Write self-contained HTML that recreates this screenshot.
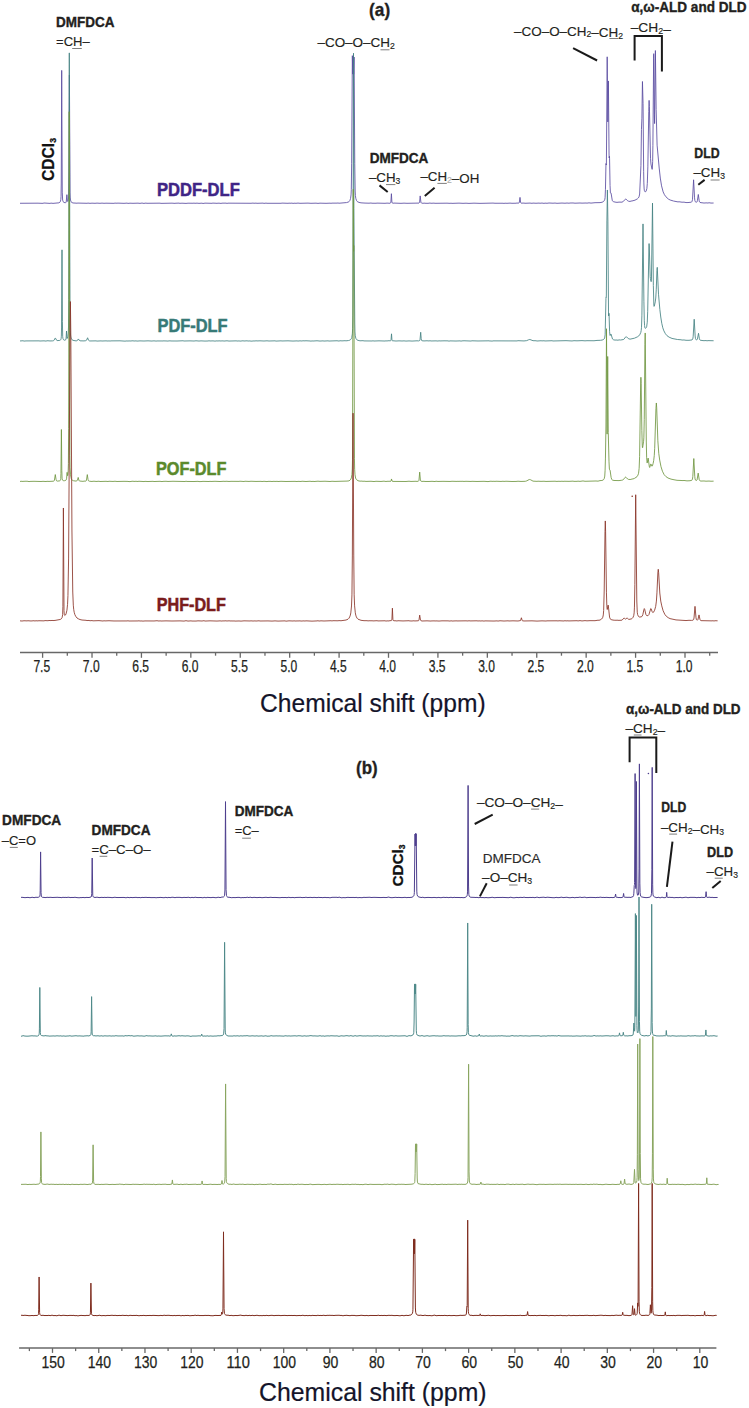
<!DOCTYPE html>
<html><head><meta charset="utf-8"><title>NMR spectra</title>
<style>
html,body{margin:0;padding:0;background:#fff;}
body{width:749px;height:1408px;overflow:hidden;font-family:"Liberation Sans", sans-serif;}
svg{display:block;}
</style></head><body>
<svg width="749" height="1408" viewBox="0 0 749 1408" font-family='"Liberation Sans", sans-serif'><polyline fill="none" stroke="#5a4ba0" stroke-width="0.85" stroke-linejoin="round" points="20.00,203.27 38.00,203.18 42.00,203.34 43.00,203.31 44.00,203.01 50.00,203.38 51.00,203.12 53.00,203.36 58.95,202.83 59.90,202.23 60.50,201.18 60.85,199.40 61.05,196.35 61.25,183.04 61.70,70.38 62.25,192.16 62.65,200.08 63.15,201.72 64.00,202.53 65.45,202.68 65.95,202.50 66.20,202.17 66.90,194.66 67.40,200.70 67.60,201.42 67.85,201.33 68.40,199.39 68.65,195.89 68.95,171.89 69.40,75.05 70.05,192.11 70.20,197.06 70.50,200.06 71.10,201.79 72.00,202.68 74.00,203.10 75.00,203.01 76.00,203.21 78.00,203.08 87.00,203.29 88.00,203.10 90.00,203.33 92.00,203.17 95.00,203.31 97.00,203.12 100.00,203.30 102.00,203.11 104.00,203.31 106.00,203.19 114.00,203.33 115.00,203.06 116.00,203.23 118.00,203.13 124.00,203.34 127.00,203.12 128.00,203.38 130.00,203.19 133.00,203.31 138.00,203.16 140.00,203.37 142.00,203.05 144.00,203.45 145.00,203.16 146.00,203.14 147.00,203.29 160.00,203.16 161.00,203.36 172.00,203.16 175.00,203.37 176.00,203.15 177.00,203.26 178.00,203.07 180.00,203.32 182.00,203.19 186.00,203.40 188.00,203.20 193.00,203.26 194.00,203.11 195.00,203.31 197.00,203.15 199.00,203.35 202.00,203.17 203.00,203.47 205.00,203.15 212.00,203.32 213.00,203.03 214.00,203.25 215.00,203.11 216.00,203.33 219.00,203.16 221.00,203.41 222.00,203.16 226.00,203.14 227.00,203.39 228.00,203.17 251.00,203.27 253.00,203.08 254.00,203.28 256.00,203.13 257.00,203.30 263.00,203.11 264.00,203.39 266.00,203.12 267.00,203.29 281.00,203.29 282.00,203.10 288.00,203.31 289.00,203.16 291.00,203.26 292.00,203.04 293.00,203.48 294.00,203.18 296.00,203.30 298.00,203.09 300.00,203.30 308.00,203.12 311.00,203.31 316.00,203.16 318.00,203.36 320.00,203.17 326.00,203.32 330.00,203.17 331.00,203.30 332.00,203.13 337.00,203.14 338.00,202.99 339.00,203.22 346.50,202.58 348.45,201.98 349.10,201.57 349.75,200.77 350.55,198.57 351.05,194.89 351.30,189.45 351.65,163.77 352.35,55.66 352.75,74.15 353.20,56.22 353.65,74.22 354.10,57.05 354.75,163.76 355.15,191.01 355.40,195.50 355.80,198.33 356.50,200.50 357.00,201.31 357.45,201.61 359.00,202.43 361.00,202.83 365.00,203.09 369.00,203.20 371.00,203.02 372.00,203.23 376.00,203.25 377.00,203.11 385.00,203.30 387.00,203.11 390.00,203.29 390.65,202.85 390.90,202.07 391.40,193.70 391.90,202.12 392.15,202.86 393.00,203.25 394.00,203.08 401.00,203.34 404.00,203.15 407.00,203.31 419.00,203.09 419.40,202.69 419.60,201.93 420.20,195.90 420.95,202.53 421.35,202.97 423.00,203.35 424.00,203.08 425.00,203.26 428.00,203.32 430.00,203.04 431.00,203.29 434.00,203.13 435.00,203.31 447.00,203.18 450.00,203.34 451.00,203.19 452.00,203.36 459.00,203.13 463.00,203.33 466.00,203.19 469.00,203.39 474.00,203.16 480.00,203.36 493.00,203.09 495.00,203.26 503.00,203.24 504.00,203.41 505.00,203.20 507.00,203.31 510.00,203.11 512.00,203.29 516.00,203.23 517.00,203.00 518.00,203.16 518.95,203.00 519.30,202.54 520.00,197.39 520.60,202.27 520.80,202.90 521.10,203.16 524.00,203.08 525.00,203.27 530.00,203.08 532.00,203.32 533.00,203.08 536.00,203.25 539.00,203.09 540.00,203.25 542.00,203.05 544.00,203.36 545.00,203.11 547.00,203.28 549.00,203.01 553.00,203.21 555.00,203.05 557.00,203.30 562.00,203.06 565.00,203.22 567.00,203.03 569.00,203.21 570.00,203.02 573.00,202.98 575.00,203.19 580.00,203.00 582.00,203.13 586.00,203.00 587.00,203.14 589.00,202.83 591.00,203.10 595.00,202.70 600.00,202.62 602.00,202.28 602.90,201.86 603.75,201.25 604.45,200.33 604.85,199.23 605.10,197.56 605.45,189.70 605.95,165.01 606.05,163.45 606.30,165.02 606.40,163.44 607.20,56.81 607.80,121.91 608.40,80.95 609.05,154.00 609.20,157.97 609.45,156.34 609.55,158.12 610.05,185.58 610.40,192.70 610.55,193.06 610.90,192.82 611.10,193.30 612.25,200.35 612.65,201.14 613.30,201.59 615.00,202.08 617.00,202.35 619.00,202.11 622.00,202.16 623.40,201.39 625.20,199.31 625.70,199.05 626.15,199.24 627.80,200.87 628.60,201.23 630.00,201.48 631.00,201.05 632.00,200.97 635.00,200.17 637.40,198.85 638.35,197.93 639.05,196.78 639.65,194.04 640.95,165.45 641.45,129.52 641.90,118.19 642.45,81.50 643.05,103.60 643.65,171.71 643.85,182.91 644.15,188.97 644.45,190.73 644.90,191.69 645.50,191.80 646.15,191.06 646.85,188.65 647.30,183.57 647.85,166.89 648.75,111.40 649.10,100.38 649.40,106.56 650.50,158.28 650.95,163.95 651.95,168.96 652.15,169.38 652.30,168.90 652.65,161.52 652.90,145.50 653.65,54.56 653.75,53.66 653.85,58.64 654.35,114.22 654.60,123.60 655.40,50.54 656.15,109.63 657.10,145.17 659.20,168.06 660.30,178.06 661.55,185.85 663.15,191.89 664.45,194.68 665.90,196.76 668.35,199.04 670.15,200.00 673.55,201.04 678.00,201.91 679.00,201.76 682.00,202.21 684.00,202.15 686.00,202.55 688.00,202.55 691.15,202.22 691.70,201.91 692.05,201.44 692.50,199.32 693.60,179.79 694.55,197.83 694.85,200.48 695.30,201.73 695.70,202.01 696.50,202.19 696.85,202.09 697.10,201.74 697.45,200.36 698.30,194.47 699.20,200.79 699.50,201.86 699.90,202.34 701.00,202.74 702.00,202.70 703.00,202.96 705.00,203.01 706.00,202.85 708.00,203.02 709.00,202.74 711.00,203.07 713.60,203.03"/>
<polyline fill="none" stroke="#458282" stroke-width="0.85" stroke-linejoin="round" points="20.00,340.96 23.00,340.75 24.00,341.09 26.00,340.91 39.00,340.86 40.00,341.00 44.00,340.84 46.00,341.08 47.00,340.78 48.00,340.77 50.00,340.95 52.40,340.90 53.35,340.75 53.90,340.43 55.30,338.01 55.60,338.29 56.45,340.08 57.00,340.61 59.75,340.43 60.40,340.11 60.85,339.48 61.15,338.35 61.35,336.21 61.55,327.05 62.00,249.84 62.40,321.71 62.70,336.78 63.00,338.73 63.55,339.77 64.20,340.13 64.95,340.23 65.80,339.70 66.10,338.12 66.50,331.04 67.00,338.32 67.15,338.56 67.35,338.31 67.85,336.53 68.25,333.09 68.50,327.03 68.75,299.54 69.30,52.89 70.00,321.03 70.20,330.49 70.65,336.11 71.05,337.92 71.50,339.02 72.10,339.79 73.00,340.35 76.00,340.88 76.80,340.74 77.45,340.41 78.40,338.96 79.35,340.43 80.00,340.82 84.00,340.92 85.80,340.68 86.60,340.16 87.60,337.78 88.50,340.21 89.20,340.80 90.00,340.98 96.00,340.86 97.00,341.07 101.00,340.88 102.00,341.01 106.00,340.87 108.00,341.03 109.00,340.87 110.00,341.05 111.00,340.89 120.00,340.82 125.00,341.14 127.00,340.91 128.00,341.09 129.00,340.86 130.00,341.02 133.00,340.79 134.00,341.02 136.00,340.87 137.00,341.08 140.00,340.88 144.00,341.01 148.00,340.84 152.00,341.05 153.00,340.88 155.00,340.91 156.00,341.11 157.00,340.94 163.00,340.97 164.00,340.82 165.00,341.00 166.00,340.87 167.00,341.08 170.00,340.83 171.00,340.98 177.00,341.00 183.00,340.78 184.00,341.01 190.00,340.86 194.00,341.03 196.00,340.79 199.00,341.04 201.00,340.86 205.00,341.07 208.00,340.99 209.00,340.78 210.00,340.97 213.00,340.89 215.00,341.10 217.00,340.85 218.00,341.06 219.00,340.79 220.00,340.98 223.00,340.88 224.00,341.05 227.00,340.79 229.00,341.05 236.00,340.87 238.00,341.05 239.00,340.84 240.00,341.13 243.00,340.79 244.00,341.00 247.00,340.80 248.00,341.03 250.00,340.91 251.00,341.17 254.00,340.91 255.00,341.00 256.00,340.76 257.00,340.95 260.00,340.82 264.00,341.01 267.00,340.80 269.00,341.00 275.00,340.84 276.00,341.09 281.00,340.83 282.00,340.98 288.00,340.82 293.00,341.06 297.00,340.88 298.00,341.06 300.00,340.83 302.00,341.00 303.00,340.72 304.00,340.88 306.00,340.78 310.00,340.96 311.00,341.15 312.00,340.90 313.00,341.03 317.00,340.78 320.00,341.06 323.00,340.86 324.00,341.05 328.00,340.84 329.00,341.04 337.00,340.76 339.00,341.06 340.00,340.74 342.00,340.89 345.00,340.70 346.00,340.84 348.60,340.52 349.80,340.14 350.70,339.49 351.35,338.61 351.75,337.61 352.35,333.86 352.65,328.24 352.85,315.16 353.50,53.23 353.90,208.33 354.75,323.03 354.95,331.94 355.25,335.80 355.85,338.31 356.35,339.22 356.95,339.85 358.00,340.37 360.00,340.80 363.00,340.68 364.00,340.92 372.00,340.99 373.00,340.81 374.00,341.03 379.00,340.83 385.00,341.02 386.00,340.82 387.00,340.99 388.00,340.76 390.35,340.81 390.85,340.56 391.05,339.85 391.50,333.82 391.95,339.88 392.10,340.49 392.35,340.71 396.00,341.02 399.00,340.85 402.00,340.99 404.00,340.86 406.00,341.07 409.00,340.90 412.00,341.07 417.00,340.80 418.65,340.92 419.65,340.57 420.00,339.87 420.70,332.27 421.20,338.67 421.50,340.37 421.95,340.73 424.00,340.93 427.00,340.77 429.00,340.95 430.00,340.72 431.00,340.97 436.00,340.86 438.00,341.04 439.00,340.81 440.00,340.95 444.00,340.82 448.00,340.86 449.00,341.17 450.00,340.88 456.00,341.03 460.00,340.87 461.00,341.14 462.00,340.89 464.00,340.77 471.00,341.04 472.00,340.79 478.00,340.98 489.00,340.82 490.00,341.04 491.00,340.92 492.00,341.16 493.00,340.86 517.00,340.93 518.00,340.70 524.00,340.95 526.65,340.63 528.65,339.77 529.85,339.48 533.00,340.69 536.00,340.75 537.00,341.00 541.00,340.74 542.00,340.89 544.00,340.76 545.00,340.96 552.00,340.73 553.00,340.98 566.00,340.67 572.00,340.96 574.00,340.69 577.00,340.82 582.00,340.62 585.00,340.84 587.00,340.69 594.00,340.75 597.00,340.41 600.45,340.30 602.20,340.02 603.45,339.53 604.15,338.91 604.65,337.96 605.15,334.84 605.95,298.80 606.05,296.97 606.25,297.30 606.35,295.01 606.90,220.90 607.40,189.98 607.90,221.08 608.50,311.96 608.65,315.96 608.95,313.25 609.05,314.03 609.60,331.73 610.00,335.49 610.20,335.46 610.75,334.18 611.00,334.04 612.50,339.02 613.25,339.65 615.00,340.14 616.00,339.98 618.00,340.20 619.00,339.89 620.65,340.01 623.35,339.55 624.00,339.21 625.35,337.22 626.10,336.68 626.65,336.92 628.25,338.58 630.00,339.18 634.55,338.16 637.70,336.70 638.80,335.88 639.65,334.93 640.75,332.56 641.20,330.48 641.50,327.28 641.90,315.19 643.00,223.92 643.90,301.21 644.30,320.77 644.55,325.47 644.95,327.98 645.25,328.35 645.65,328.22 646.30,327.57 646.65,326.80 647.25,322.22 647.70,311.30 649.00,243.79 649.10,243.56 649.25,245.96 650.20,276.64 650.40,278.45 651.15,281.67 651.45,279.08 652.50,203.05 653.35,285.50 653.85,305.14 654.05,306.40 654.35,305.97 655.25,301.90 655.75,298.03 656.25,289.75 656.95,270.46 657.25,267.33 658.50,294.21 659.85,309.53 660.75,317.02 661.75,323.26 662.80,327.80 663.90,330.88 665.40,333.70 667.00,335.69 669.10,337.16 672.00,338.43 677.35,339.49 681.00,339.78 682.00,340.06 684.00,339.96 686.00,340.29 689.00,340.30 692.00,339.94 692.75,338.99 693.15,336.81 694.20,319.26 695.15,335.96 695.45,338.42 695.90,339.60 696.30,339.83 696.80,339.83 697.40,339.23 698.50,333.28 699.40,338.78 699.70,339.71 700.10,340.13 702.00,340.49 704.00,340.69 706.00,340.56 707.00,340.84 708.00,340.62 713.60,340.74"/>
<polyline fill="none" stroke="#6f9640" stroke-width="0.85" stroke-linejoin="round" points="20.00,481.56 21.00,481.19 22.00,481.42 26.00,481.23 28.00,481.32 29.00,481.65 30.00,481.41 34.00,481.30 41.00,481.50 43.00,481.33 46.00,481.52 47.00,481.34 49.00,481.43 53.40,481.21 54.05,480.95 54.40,480.33 55.30,474.57 56.05,479.44 56.50,480.78 57.00,481.15 57.30,481.14 59.60,480.85 60.20,480.50 60.55,479.80 60.75,478.61 60.95,473.43 61.40,429.52 61.80,470.37 62.10,478.91 62.45,480.09 63.20,480.64 64.40,480.73 65.90,480.24 66.30,479.76 66.55,478.86 67.10,472.36 67.55,475.67 67.70,475.70 67.85,474.93 68.20,470.44 68.40,463.60 68.65,428.28 69.20,111.67 69.90,455.74 70.10,467.92 70.50,474.77 71.25,478.61 71.85,479.76 72.60,480.41 73.65,480.78 76.00,481.08 76.85,480.84 77.45,480.19 78.20,477.45 78.95,480.36 79.40,481.00 83.00,481.35 84.00,481.12 85.90,481.10 86.25,480.77 86.50,480.02 87.30,474.61 88.05,479.54 88.45,480.76 89.30,481.20 92.00,481.47 93.00,481.26 95.00,481.28 96.00,481.48 99.00,481.24 100.00,481.51 106.00,481.32 108.00,481.50 109.00,481.27 113.00,481.44 115.00,481.25 117.00,481.49 124.00,481.33 128.00,481.41 129.00,481.60 131.00,481.51 132.00,481.23 135.00,481.44 136.00,481.21 137.00,481.49 139.00,481.29 144.00,481.56 145.00,481.38 148.00,481.54 153.00,481.33 154.00,481.52 160.00,481.32 162.00,481.59 163.00,481.38 166.00,481.29 168.00,481.46 173.00,481.27 185.00,481.53 186.00,481.23 187.00,481.46 194.00,481.52 198.00,481.35 199.00,481.57 201.00,481.57 203.00,481.36 209.00,481.52 210.00,481.34 211.00,481.48 215.00,481.30 220.00,481.53 224.00,481.27 225.00,481.46 226.00,481.25 229.00,481.48 231.00,481.33 239.00,481.38 240.00,481.22 244.00,481.50 245.00,481.24 249.00,481.44 251.00,481.25 256.00,481.44 261.00,481.35 262.00,481.53 264.00,481.31 267.00,481.58 268.00,481.38 271.00,481.39 272.00,481.57 273.00,481.35 276.00,481.44 277.00,481.30 278.00,481.53 281.00,481.32 286.00,481.49 295.00,481.36 297.00,481.54 298.00,481.37 301.00,481.49 302.00,481.24 306.00,481.51 310.00,481.26 312.00,481.53 313.00,481.31 314.00,481.53 318.00,481.20 320.00,481.39 325.00,481.24 330.00,481.49 332.00,481.27 335.00,481.42 347.00,481.09 349.00,480.87 350.25,479.97 350.85,479.13 351.35,477.92 351.95,474.51 352.30,468.97 352.50,459.24 353.25,189.26 353.50,246.02 353.60,251.29 353.75,245.52 353.85,260.84 354.45,458.82 354.65,469.24 355.00,474.78 355.60,478.03 356.05,479.06 356.60,479.69 358.00,480.73 360.00,481.16 362.00,481.09 363.00,481.35 364.00,481.17 366.00,481.41 371.00,481.28 374.00,481.54 376.00,481.29 381.00,481.46 384.00,481.17 386.00,481.50 387.00,481.32 390.85,481.28 391.10,480.89 391.50,478.96 392.00,481.02 393.00,481.41 406.00,481.49 409.00,481.23 411.00,481.44 416.00,481.28 417.00,481.44 418.50,481.12 418.95,480.52 419.70,472.11 420.40,480.30 420.80,481.05 422.00,481.43 424.00,481.30 425.00,481.48 429.00,481.47 432.00,481.32 435.00,481.54 436.00,481.22 438.00,481.46 443.00,481.34 450.00,481.46 452.00,481.27 457.00,481.42 458.00,481.29 459.00,481.44 460.00,481.24 461.00,481.42 462.00,481.25 464.00,481.43 466.00,481.31 471.00,481.46 472.00,481.32 477.00,481.48 484.00,481.32 488.00,481.58 491.00,481.19 492.00,481.39 494.00,481.28 495.00,481.43 496.00,481.24 501.00,481.45 503.00,481.25 504.00,481.41 506.00,481.26 512.00,481.49 516.00,481.45 518.00,481.24 521.00,481.45 525.30,481.30 526.80,480.85 529.00,479.63 529.65,479.50 530.55,479.75 533.00,481.14 537.00,481.35 538.00,481.21 541.00,481.36 544.00,481.25 546.00,481.44 555.00,481.22 557.00,481.45 558.00,481.29 561.00,481.36 562.00,481.18 563.00,481.43 564.00,481.26 569.00,481.35 573.00,481.13 574.00,481.37 577.00,481.34 578.00,481.17 580.00,481.37 583.00,480.95 585.00,481.29 596.00,480.99 598.00,481.15 600.00,480.61 601.90,480.48 603.00,480.09 603.70,479.51 604.20,478.69 604.75,476.10 605.10,470.35 605.45,458.08 605.95,426.02 606.50,328.72 607.10,434.13 607.70,356.47 608.25,432.61 609.00,461.82 609.40,469.11 609.55,469.74 609.90,469.83 610.10,470.31 611.10,477.38 611.80,479.56 612.55,480.14 614.00,480.48 619.00,480.60 621.80,480.23 622.70,479.99 623.45,479.54 625.00,477.45 625.55,477.13 626.20,477.48 627.60,479.00 628.35,479.39 630.10,479.51 631.00,479.40 632.00,478.99 633.00,478.95 634.55,478.34 637.00,476.68 637.95,475.12 638.55,473.28 639.15,468.29 639.60,456.65 640.60,388.00 640.90,377.29 641.15,383.57 641.85,430.51 642.25,445.22 642.45,447.57 642.55,447.81 642.65,447.59 643.60,441.28 643.85,437.87 644.25,419.30 644.95,344.52 645.20,332.96 646.30,442.02 646.65,457.77 647.10,463.04 647.35,462.58 647.95,458.62 648.20,458.05 649.25,466.25 649.45,467.16 649.70,467.50 650.80,464.02 651.05,464.16 651.85,466.10 652.10,466.18 652.35,465.88 653.10,463.57 653.70,460.54 654.25,455.67 654.70,448.32 655.95,408.55 656.35,402.97 656.70,407.80 657.85,440.80 658.75,453.27 659.70,460.08 661.00,466.69 662.45,471.25 664.15,474.66 665.85,476.52 668.00,478.01 671.00,479.11 674.00,479.76 677.00,480.30 683.00,480.58 684.00,480.48 687.00,480.87 690.00,480.73 691.85,480.28 692.45,479.23 692.80,476.73 693.80,458.55 694.75,476.29 695.05,478.93 695.50,480.11 696.50,480.48 697.05,479.98 698.20,473.11 699.20,479.52 699.50,480.36 700.00,480.84 701.00,481.07 704.00,480.97 706.00,481.19 709.00,481.05 711.00,481.24 713.60,481.15"/>
<polyline fill="none" stroke="#8a3428" stroke-width="0.85" stroke-linejoin="round" points="20.00,620.84 22.00,621.02 24.00,620.75 27.00,620.89 28.00,620.74 31.00,620.98 34.00,620.72 35.00,621.02 36.00,620.68 37.00,620.91 39.00,620.74 44.00,620.87 45.00,620.59 48.00,620.73 49.00,620.47 51.00,620.59 52.00,620.41 53.00,620.56 55.00,620.43 60.25,619.47 61.35,618.78 62.10,617.59 62.65,614.69 62.90,606.35 63.40,507.99 64.00,610.65 64.25,614.33 64.50,615.24 64.90,615.56 65.45,615.09 66.05,613.87 66.95,610.21 67.55,604.43 67.95,595.57 68.60,558.07 70.00,332.79 70.40,301.59 70.80,332.85 71.95,531.00 72.75,592.02 73.30,605.17 73.70,609.34 74.20,612.25 74.90,614.68 75.70,616.26 77.00,618.02 78.75,619.03 80.00,619.56 82.00,620.03 86.00,620.31 87.00,620.55 89.00,620.45 90.00,620.76 92.00,620.56 93.00,620.83 99.00,620.63 103.00,621.01 104.00,620.74 105.00,620.91 109.00,620.74 114.00,620.98 127.00,620.95 128.00,620.79 129.00,621.01 138.00,620.95 139.00,620.78 140.00,621.05 141.00,620.91 143.00,621.10 145.00,620.93 154.00,620.98 157.00,620.72 159.00,621.04 160.00,620.84 161.00,621.03 166.00,620.86 172.00,621.00 180.00,620.88 184.00,621.09 186.00,620.70 188.00,621.07 191.00,620.87 192.00,621.04 196.00,621.05 198.00,620.84 202.00,621.00 204.00,620.70 205.00,621.06 210.00,620.84 217.00,621.05 220.00,620.87 222.00,621.07 223.00,620.81 224.00,621.03 225.00,620.77 227.00,620.97 229.00,620.82 231.00,621.01 232.00,620.90 233.00,621.05 234.00,620.88 235.00,621.08 239.00,620.96 241.00,621.11 244.00,620.84 250.00,620.98 251.00,620.83 253.00,621.03 255.00,620.89 256.00,621.04 259.00,620.79 260.00,621.01 268.00,620.92 272.00,621.09 275.00,620.89 278.00,621.08 285.00,620.86 286.00,621.16 289.00,620.84 293.00,621.00 294.00,620.85 296.00,621.05 297.00,620.86 298.00,621.00 299.00,620.85 302.00,621.07 303.00,620.87 305.00,621.01 306.00,620.83 312.00,621.13 317.00,620.92 318.00,620.73 319.00,621.04 321.00,620.82 324.00,620.99 331.00,620.72 332.00,620.93 333.00,620.70 338.00,620.79 339.00,620.60 341.00,620.74 346.00,620.04 348.00,619.20 348.95,618.26 349.70,616.95 350.35,615.07 350.80,612.92 351.50,605.97 351.95,594.89 352.35,555.99 353.05,413.18 353.75,555.94 354.15,594.82 354.60,605.87 355.30,612.81 355.75,615.07 356.35,616.89 357.10,618.21 358.00,619.16 361.00,620.30 364.00,620.68 367.00,620.70 368.00,620.87 370.00,620.72 371.00,620.84 372.00,620.72 373.00,620.91 377.00,620.71 378.00,620.93 385.00,620.78 386.00,621.08 387.00,620.87 389.00,620.95 390.00,620.61 391.25,620.71 391.75,620.26 391.95,618.99 392.40,608.17 392.90,619.43 393.20,620.45 394.00,620.84 395.00,620.71 397.00,620.97 398.00,620.73 403.00,620.94 409.00,620.72 410.00,620.99 411.00,620.90 412.00,621.06 413.00,620.79 415.00,620.93 418.20,620.78 418.70,620.56 419.00,619.94 419.70,615.14 420.50,620.16 420.85,620.60 422.00,621.00 427.00,620.84 431.00,621.06 432.00,620.85 433.00,620.98 434.00,620.81 435.00,621.01 436.00,620.88 439.00,621.05 442.00,620.83 448.00,620.86 450.00,621.06 451.00,620.80 453.00,621.09 454.00,620.87 455.00,620.97 456.00,620.81 457.00,620.95 466.00,620.83 468.00,620.96 469.00,620.73 470.00,620.93 477.00,620.81 478.00,621.00 479.00,620.85 481.00,621.00 482.00,620.82 484.00,621.09 485.00,620.88 494.00,621.04 497.00,620.86 498.00,621.07 500.00,620.75 504.00,621.02 508.00,620.82 509.00,620.97 513.00,620.82 518.00,620.99 520.55,620.57 521.40,617.78 522.20,620.56 522.55,620.78 524.00,620.98 532.00,620.83 537.00,621.09 542.00,620.85 546.00,621.01 547.00,620.85 557.00,620.81 558.00,620.95 559.00,620.76 564.00,620.97 565.00,620.64 566.00,620.98 567.00,620.79 569.00,620.92 577.00,620.71 578.00,620.93 580.00,620.62 582.00,620.94 585.00,620.64 587.00,620.84 590.00,620.66 595.00,620.70 598.00,620.19 599.00,620.27 600.10,619.98 601.60,619.02 602.35,618.13 602.80,617.26 603.30,614.93 603.65,610.55 604.20,591.07 605.00,531.34 605.30,520.94 605.60,531.13 606.45,592.82 606.80,605.21 607.15,609.38 607.30,609.49 607.45,608.95 608.00,605.34 608.15,605.03 608.25,605.20 609.55,617.07 610.15,618.83 611.10,619.59 613.00,620.08 614.90,620.25 618.00,620.22 619.00,620.44 620.00,620.20 621.00,620.38 622.20,619.97 623.95,618.08 624.30,618.18 625.35,619.05 625.75,618.95 626.95,618.05 627.35,618.18 628.40,619.18 629.00,619.43 631.45,618.87 632.15,618.45 632.80,617.76 633.70,615.76 634.15,612.86 634.45,607.15 634.85,584.66 635.70,494.74 636.80,601.00 637.25,612.23 637.65,614.67 638.35,616.20 639.00,616.93 639.60,617.04 641.15,616.87 642.10,616.31 642.80,614.76 643.90,609.66 644.30,608.60 644.70,609.34 645.90,614.54 646.40,615.37 647.10,615.67 648.10,615.58 648.90,614.68 650.75,608.53 651.15,608.82 652.20,611.80 652.80,612.60 653.15,612.56 653.55,612.16 654.60,610.24 655.70,606.37 656.40,601.10 656.95,592.87 657.85,573.07 658.25,569.28 658.65,572.79 659.80,593.03 660.75,601.08 661.75,605.89 663.10,610.68 664.75,614.25 666.30,616.25 668.20,617.67 670.05,618.62 676.00,619.92 686.00,620.56 689.00,620.31 691.55,620.40 692.95,620.19 693.60,619.63 694.00,617.97 695.00,606.35 696.00,617.77 696.35,619.38 696.85,620.03 697.50,620.12 697.95,619.61 699.00,614.91 700.00,619.53 700.40,620.29 701.00,620.65 712.00,620.86 713.00,620.72 714.00,621.00 715.00,620.73 717.60,620.81"/>
<polyline fill="none" stroke="#4e3f8e" stroke-width="1.00" stroke-linejoin="round" points="21.00,897.38 22.00,897.30 25.00,897.67 28.00,897.38 30.00,897.74 32.00,897.30 33.00,897.34 34.00,897.72 36.00,897.20 37.00,897.43 38.90,897.13 39.40,896.90 39.75,896.42 40.05,894.84 40.20,890.73 40.60,851.91 41.05,892.70 41.35,896.19 41.70,896.91 42.25,897.28 46.00,897.60 47.00,897.23 48.00,897.45 51.00,897.30 52.00,897.50 58.00,897.29 59.00,897.53 60.00,897.33 61.00,897.67 62.00,897.60 63.00,897.20 64.00,897.54 65.00,897.33 67.00,897.50 68.00,897.20 71.00,897.64 72.00,897.32 73.00,897.61 74.00,897.33 76.00,897.37 77.00,897.71 78.00,897.58 79.00,897.86 80.00,897.59 82.00,897.62 83.00,897.40 85.00,897.69 86.00,897.42 89.00,897.53 91.05,896.99 91.55,896.03 91.75,893.44 92.20,858.03 92.75,895.28 92.90,896.25 93.20,896.85 95.00,897.55 96.00,897.26 98.00,897.29 99.00,897.63 102.00,897.32 103.00,897.56 105.00,897.30 106.00,897.59 107.00,897.32 111.00,897.49 112.00,897.70 115.00,897.22 116.00,897.47 118.00,897.54 124.00,897.44 126.00,897.78 128.00,897.26 129.00,897.76 131.00,897.36 132.00,897.64 136.00,897.35 138.00,897.66 139.00,897.45 141.00,897.78 142.00,897.32 143.00,897.54 146.00,897.35 148.00,897.56 149.00,897.42 151.00,897.61 155.00,897.57 156.00,897.77 158.00,897.52 159.00,897.61 160.00,897.36 164.00,897.73 166.00,897.28 167.00,897.79 169.00,897.34 170.00,897.71 172.00,897.23 174.00,897.42 175.00,897.74 176.00,897.38 180.00,897.36 182.00,897.66 184.00,897.36 186.00,897.52 189.00,897.25 190.00,897.79 192.00,897.35 194.00,897.70 195.00,897.14 196.00,897.42 198.00,897.59 201.00,897.49 203.00,897.82 204.00,897.42 205.00,897.36 206.00,897.90 207.00,897.35 211.00,897.64 213.00,897.36 216.00,897.76 218.00,897.26 219.00,897.29 220.00,897.65 222.00,897.02 223.00,897.09 223.55,896.93 224.20,896.36 224.60,895.24 224.95,889.98 225.50,801.61 226.05,889.67 226.45,895.33 226.95,896.64 227.70,897.19 230.00,897.37 231.10,897.70 234.00,897.52 235.00,897.65 238.00,897.36 240.00,897.48 241.00,897.91 242.00,897.46 243.00,897.68 245.00,897.47 246.00,897.67 247.00,897.17 249.00,897.62 250.00,897.14 252.00,897.66 254.00,897.33 257.00,897.61 260.00,897.40 262.00,897.70 266.00,897.30 268.00,897.60 271.00,897.26 272.00,897.52 275.00,897.45 280.00,897.70 282.00,897.45 284.00,897.57 285.00,897.45 287.00,897.67 289.00,897.23 290.00,897.68 291.00,897.50 292.00,897.61 293.00,897.30 294.00,897.76 296.00,897.48 301.00,897.33 302.00,897.69 303.00,897.49 305.00,897.51 306.00,897.15 307.00,897.58 311.00,897.35 312.00,897.63 314.00,897.36 317.00,897.61 319.00,897.27 320.00,897.66 321.00,897.34 322.00,897.68 325.00,897.40 327.00,897.63 328.00,897.47 330.00,897.81 332.00,897.33 337.00,897.30 338.00,897.58 339.00,897.11 340.00,897.30 341.00,897.80 344.00,897.57 345.00,897.76 348.00,897.31 349.00,897.49 354.00,897.45 355.00,897.63 356.00,897.30 358.00,897.78 359.00,897.50 362.00,897.70 364.00,897.29 365.00,897.46 370.00,897.25 371.00,897.53 374.00,897.35 381.00,897.57 384.00,897.40 385.00,897.56 387.00,897.49 388.00,897.12 389.00,897.09 390.00,897.54 392.00,897.70 396.00,897.27 397.00,897.62 398.00,897.39 402.00,897.61 405.00,897.33 407.00,897.69 408.00,897.37 409.00,897.57 412.00,897.25 413.35,896.40 413.80,895.80 414.15,894.59 414.35,892.43 415.00,834.04 415.30,845.92 415.60,833.43 415.90,845.71 416.20,833.72 416.80,891.14 417.05,894.49 417.65,896.17 419.00,897.13 420.00,897.10 421.00,897.58 423.00,897.18 424.00,897.70 428.00,897.42 432.00,897.62 434.00,897.41 437.00,897.70 438.00,897.44 439.00,897.42 440.00,897.68 442.00,897.60 443.00,897.29 446.00,897.52 447.00,897.24 448.00,897.68 451.00,897.31 453.00,897.69 454.00,897.25 456.00,897.59 457.00,897.38 458.00,897.60 459.00,897.42 460.00,897.65 462.00,897.48 463.00,897.73 465.00,897.50 466.50,896.63 467.00,895.89 467.35,894.34 467.55,891.15 468.10,785.43 468.55,886.04 468.85,894.50 469.20,896.09 469.75,896.84 471.00,897.39 472.00,897.21 473.00,897.45 474.00,897.27 475.00,897.51 477.00,897.38 479.00,897.76 480.00,897.33 482.00,897.65 483.00,897.43 484.00,897.76 486.00,897.51 488.00,897.76 491.00,897.53 492.00,897.26 493.00,897.36 494.00,897.72 498.00,897.42 499.00,897.55 500.00,897.36 501.00,897.56 502.00,897.39 509.00,897.70 510.00,897.28 511.00,897.26 512.00,897.59 514.00,897.80 517.00,897.37 518.00,897.61 519.00,897.60 520.00,897.34 523.00,897.54 524.00,897.06 525.00,897.51 529.00,897.57 530.00,897.35 531.00,897.56 533.00,897.36 535.00,897.72 536.00,897.28 538.00,897.25 539.00,897.79 540.00,897.46 544.00,897.19 545.00,897.52 546.00,897.54 547.00,897.20 553.00,897.70 555.00,897.70 556.00,897.32 558.00,897.67 560.00,897.50 561.00,897.20 562.00,897.22 563.00,897.61 567.00,897.24 568.00,897.55 570.00,897.74 573.00,897.33 574.00,897.68 575.00,897.75 576.00,897.41 578.00,897.51 580.00,897.12 582.00,897.59 583.00,897.28 584.00,897.37 585.00,897.00 586.00,897.69 590.00,897.40 595.00,897.51 596.00,897.73 597.00,897.28 598.00,897.53 601.00,897.14 602.00,897.58 603.00,897.34 605.00,897.56 606.00,897.33 610.00,897.64 611.00,897.35 612.00,897.62 614.35,897.43 614.95,897.22 615.60,894.06 616.00,896.68 616.25,897.29 617.00,897.25 619.00,897.64 620.00,897.42 621.00,897.75 622.00,897.31 622.70,897.33 623.00,897.15 623.60,893.47 624.05,896.60 624.35,897.19 628.00,897.39 629.00,897.25 631.00,897.47 632.00,896.84 633.00,896.74 633.55,895.74 633.85,893.18 634.25,885.54 634.50,884.57 634.60,882.69 635.10,773.57 635.65,887.26 635.75,888.56 635.85,887.56 636.00,878.26 636.40,781.49 636.90,888.06 637.10,893.00 637.50,895.05 637.90,895.43 638.30,894.98 638.75,892.00 639.05,868.90 639.40,763.89 639.85,883.19 640.10,892.70 640.40,894.98 640.95,896.49 641.40,896.81 643.00,897.24 646.00,897.65 648.00,897.51 650.00,897.08 650.60,896.71 651.00,896.10 651.50,893.25 651.85,869.80 652.20,767.39 652.65,884.17 652.85,892.83 653.05,894.90 653.40,896.14 654.25,896.83 655.00,897.01 656.00,897.57 657.00,897.70 658.00,897.31 659.00,897.34 660.00,897.92 662.00,897.16 664.00,897.76 665.90,897.46 666.15,897.30 666.30,896.84 666.70,892.36 667.10,896.88 667.25,897.35 667.60,897.51 670.00,897.24 671.00,897.55 672.00,897.32 674.00,897.75 676.00,897.50 679.00,897.63 680.00,897.30 682.00,897.75 686.00,897.19 688.00,897.74 690.00,897.37 695.00,897.38 697.00,897.73 698.00,897.41 699.00,897.41 700.00,897.67 701.00,897.27 704.00,897.50 705.20,897.33 705.60,896.97 706.10,891.68 706.50,896.62 706.90,897.39 710.00,897.19 711.00,897.61 712.00,897.23 713.00,897.56 717.60,897.47"/>
<polyline fill="none" stroke="#4f8a8a" stroke-width="1.00" stroke-linejoin="round" points="21.00,1036.11 22.00,1036.21 23.00,1035.56 24.00,1035.93 26.00,1036.15 28.00,1036.17 32.00,1035.78 34.00,1035.98 35.00,1035.83 36.00,1036.08 37.55,1036.02 38.35,1035.74 38.95,1034.89 39.25,1033.23 39.40,1028.88 39.80,987.47 40.30,1032.41 40.60,1034.75 40.90,1035.19 41.65,1035.59 44.00,1035.95 45.00,1035.68 46.00,1035.67 47.00,1035.99 48.00,1035.81 49.00,1036.12 54.00,1035.92 55.00,1036.11 56.00,1035.87 58.00,1035.84 59.00,1036.04 61.00,1035.82 62.00,1036.25 63.00,1035.89 66.00,1036.21 67.00,1035.93 68.00,1036.05 70.00,1035.73 71.00,1036.07 72.00,1036.10 76.00,1035.72 78.00,1036.04 79.00,1035.87 84.00,1036.16 85.00,1035.75 86.00,1036.04 87.00,1035.64 88.00,1035.96 89.00,1035.88 90.40,1035.39 90.95,1034.32 91.15,1031.76 91.60,996.63 92.10,1033.00 92.40,1034.95 92.75,1035.42 93.40,1035.72 95.00,1035.76 96.00,1036.00 97.00,1035.77 99.00,1035.88 100.00,1036.13 101.00,1035.72 103.00,1036.12 105.00,1035.76 106.00,1035.99 107.00,1035.90 108.00,1036.07 109.00,1035.81 112.00,1036.10 113.00,1035.78 114.00,1036.16 115.00,1035.81 116.00,1035.72 118.00,1035.97 123.00,1035.91 124.00,1036.22 125.00,1035.62 127.00,1035.87 129.00,1035.57 130.00,1035.83 131.00,1035.84 132.00,1035.58 133.00,1036.08 134.00,1036.14 138.00,1035.78 139.00,1035.98 142.00,1035.90 143.00,1036.10 145.00,1036.14 146.00,1035.71 147.00,1035.68 148.00,1036.01 149.00,1035.86 153.00,1036.09 156.00,1035.82 157.00,1036.21 158.00,1035.97 161.00,1036.14 165.00,1035.84 168.00,1035.93 169.00,1035.80 170.00,1036.28 170.85,1035.68 171.30,1033.88 171.75,1035.68 173.00,1036.30 174.00,1035.85 176.00,1036.05 179.00,1035.72 181.00,1036.01 182.00,1035.62 183.00,1035.97 184.00,1035.85 185.00,1036.08 187.00,1035.83 189.00,1035.96 191.00,1036.41 192.00,1036.00 196.00,1036.05 199.00,1035.84 201.00,1036.03 201.35,1035.64 201.70,1034.06 202.15,1035.80 203.00,1036.17 205.00,1035.94 206.00,1036.22 207.00,1035.79 209.00,1036.23 210.00,1035.92 213.00,1036.17 215.00,1035.98 216.00,1036.08 218.00,1035.74 220.00,1035.87 221.00,1035.59 222.20,1035.65 223.20,1034.91 223.65,1033.92 224.05,1028.56 224.60,942.33 225.20,1029.97 225.40,1032.87 225.80,1034.48 226.30,1035.13 228.00,1035.99 233.00,1036.07 234.00,1035.69 235.00,1036.00 238.00,1035.77 239.00,1036.15 241.00,1035.74 242.00,1036.04 244.00,1035.80 246.00,1035.84 247.00,1035.61 249.00,1036.03 251.00,1035.99 252.00,1035.77 255.00,1036.05 257.00,1035.79 258.00,1036.12 262.00,1035.85 263.00,1036.19 266.00,1035.76 267.00,1036.20 270.00,1036.07 271.00,1035.67 273.00,1036.03 277.00,1035.85 278.00,1036.03 279.00,1035.89 284.00,1036.15 285.00,1035.74 288.00,1036.06 289.00,1035.79 290.00,1036.07 295.00,1035.79 297.00,1036.09 298.00,1035.72 301.00,1035.87 302.00,1036.17 305.00,1035.78 306.00,1036.18 307.00,1035.97 309.00,1035.96 310.00,1035.63 312.00,1035.76 313.00,1036.02 314.00,1035.87 318.00,1036.09 320.00,1035.70 322.00,1036.20 323.00,1035.79 324.00,1036.15 325.00,1036.20 326.00,1035.86 327.00,1036.00 328.00,1035.74 329.00,1036.06 331.00,1035.75 335.00,1035.98 337.00,1035.85 339.00,1036.31 341.00,1035.84 342.00,1035.80 343.00,1036.04 345.00,1035.95 346.00,1035.65 348.00,1035.77 349.00,1036.09 351.00,1035.58 352.00,1036.02 354.00,1036.14 355.00,1035.53 356.00,1035.97 357.00,1036.07 360.00,1035.68 363.00,1036.03 365.00,1035.91 366.00,1036.08 367.00,1035.79 370.00,1036.03 371.00,1035.90 372.00,1036.13 374.00,1035.81 375.00,1035.96 378.00,1035.73 379.00,1036.16 380.00,1036.08 381.00,1035.71 382.00,1036.11 384.00,1035.89 386.00,1036.28 387.00,1035.99 389.00,1036.11 390.00,1035.79 391.00,1035.75 392.00,1035.73 394.00,1036.07 396.00,1035.73 397.00,1035.97 399.00,1036.03 405.00,1035.75 407.00,1036.36 409.00,1035.61 411.00,1035.91 413.10,1034.81 413.55,1033.88 413.80,1032.35 414.10,1022.00 414.50,984.31 414.80,993.95 415.10,983.87 415.40,993.94 415.70,984.28 416.30,1030.79 416.55,1033.56 417.10,1035.01 417.60,1035.33 420.00,1036.06 422.00,1035.59 424.00,1036.21 427.00,1035.74 428.00,1035.79 429.00,1036.16 433.00,1035.77 435.00,1035.77 436.00,1036.04 437.00,1035.83 439.00,1036.05 442.00,1036.02 444.00,1035.65 445.00,1035.93 449.00,1035.86 450.00,1036.12 451.00,1035.91 456.00,1036.05 459.00,1035.79 461.00,1035.90 462.00,1035.61 463.00,1035.73 465.10,1035.56 466.25,1034.98 466.75,1033.99 467.05,1031.82 467.20,1027.59 467.70,922.98 468.15,1024.35 468.40,1032.42 468.75,1034.41 469.25,1035.23 473.00,1036.13 474.00,1036.15 475.00,1035.82 477.00,1036.24 478.00,1035.76 478.80,1035.73 479.30,1034.04 479.65,1035.64 479.90,1036.02 481.00,1036.03 482.00,1035.78 483.00,1036.17 485.00,1036.04 486.00,1035.76 488.00,1036.14 491.00,1035.90 492.00,1036.17 493.00,1035.91 494.00,1036.08 496.00,1035.80 497.00,1036.17 498.00,1035.76 500.00,1035.97 502.00,1035.68 503.00,1035.93 506.00,1036.02 507.00,1036.29 508.00,1035.88 509.00,1036.31 510.00,1035.98 511.00,1035.93 512.00,1035.54 514.00,1035.98 515.00,1036.03 516.00,1035.82 518.00,1036.08 520.00,1035.70 524.00,1036.06 525.00,1035.80 530.00,1036.14 531.00,1035.87 539.00,1035.77 541.00,1036.31 542.00,1036.03 545.00,1035.92 546.00,1036.24 547.00,1035.90 548.00,1035.80 549.00,1035.76 550.00,1035.97 551.00,1035.79 554.00,1035.75 555.00,1035.97 556.00,1035.69 557.00,1036.29 558.00,1035.53 561.00,1036.01 569.00,1035.93 570.00,1036.08 571.00,1035.92 573.00,1036.18 574.00,1036.01 575.00,1036.13 576.00,1035.88 581.00,1036.16 582.00,1035.90 584.00,1036.00 585.00,1035.73 587.00,1036.13 588.00,1035.94 591.00,1036.13 593.00,1035.98 594.00,1035.45 596.00,1036.05 598.00,1035.83 599.00,1036.08 600.00,1035.81 602.00,1036.04 606.00,1035.76 609.00,1035.83 610.00,1036.09 613.00,1035.72 615.00,1036.12 616.00,1035.87 618.00,1035.95 618.80,1035.70 619.10,1035.06 619.50,1032.88 619.90,1035.00 620.20,1035.65 621.00,1035.94 622.00,1035.59 622.60,1035.65 622.90,1035.00 623.30,1032.30 623.80,1035.24 624.60,1035.84 625.00,1035.98 626.00,1035.80 628.00,1035.99 629.00,1035.65 630.00,1035.76 632.00,1035.57 632.90,1035.08 633.25,1033.97 633.90,1023.04 634.45,1031.02 634.60,1031.20 634.70,1030.59 634.85,1027.73 635.40,913.59 635.85,1016.43 636.05,1006.03 636.40,915.49 636.90,1025.70 637.05,1030.20 637.40,1032.63 637.65,1033.01 637.95,1032.71 638.35,1029.95 638.65,1006.03 639.00,897.01 639.45,1021.30 639.70,1031.21 639.95,1033.22 640.35,1034.40 641.25,1035.12 643.00,1035.71 645.00,1035.96 646.00,1035.42 647.00,1035.80 648.00,1035.89 649.40,1035.54 650.00,1035.26 650.50,1034.47 651.00,1031.69 651.35,1008.06 651.70,904.29 652.15,1022.33 652.35,1031.02 652.60,1033.40 653.00,1034.77 653.55,1035.23 655.00,1035.38 656.00,1035.88 660.00,1035.99 661.00,1035.84 662.00,1035.98 664.00,1035.73 665.55,1035.79 665.80,1035.55 665.95,1034.81 666.30,1030.49 666.75,1035.29 666.95,1035.61 668.00,1036.05 669.00,1035.87 671.00,1036.15 672.00,1035.71 677.00,1036.20 678.00,1035.87 679.00,1036.07 681.00,1035.85 682.00,1036.01 686.00,1036.07 687.00,1036.02 688.00,1035.69 691.00,1036.08 692.00,1035.79 693.00,1035.97 695.00,1035.67 697.00,1036.04 698.00,1035.89 699.00,1036.08 702.00,1035.86 704.00,1035.99 705.00,1035.84 705.40,1035.44 705.90,1029.94 706.30,1034.95 706.70,1035.73 709.00,1036.11 711.00,1035.80 712.00,1036.05 713.00,1035.71 715.00,1035.83 716.00,1036.18 717.60,1036.02"/>
<polyline fill="none" stroke="#8aa660" stroke-width="1.00" stroke-linejoin="round" points="21.00,1184.40 26.00,1184.25 28.00,1184.60 29.00,1184.32 31.00,1184.46 34.00,1184.24 36.00,1184.47 37.00,1184.14 38.00,1184.23 39.35,1183.79 40.05,1183.05 40.35,1181.21 40.50,1176.49 40.90,1131.93 41.35,1178.82 41.60,1182.60 41.95,1183.58 42.45,1183.93 44.00,1184.35 46.00,1184.34 47.00,1184.00 49.00,1184.38 50.00,1184.41 51.00,1184.16 52.00,1184.32 54.00,1184.27 55.00,1184.55 56.00,1184.27 58.00,1184.53 59.00,1184.31 62.00,1184.41 63.00,1184.21 65.00,1184.60 66.00,1184.17 67.00,1184.53 69.00,1184.30 70.00,1184.70 72.00,1184.22 74.00,1184.48 77.00,1184.39 79.00,1184.61 80.00,1184.29 83.00,1184.41 84.00,1184.21 88.00,1184.55 89.00,1184.16 91.00,1184.35 91.60,1183.97 92.40,1182.93 92.65,1180.17 93.10,1144.84 93.60,1181.40 93.95,1183.51 94.35,1184.04 95.00,1184.41 99.00,1184.34 100.00,1184.61 101.00,1184.32 103.00,1184.45 106.00,1184.23 108.00,1184.33 109.00,1184.57 113.00,1184.35 114.00,1184.56 115.00,1184.40 116.00,1184.49 117.00,1184.20 118.00,1184.45 119.00,1184.15 120.00,1184.09 121.00,1184.35 122.00,1184.26 123.00,1184.42 124.00,1184.74 125.00,1184.27 131.00,1184.50 133.00,1184.24 135.00,1184.40 136.00,1184.24 137.00,1184.44 138.00,1184.27 139.00,1184.54 143.00,1184.38 144.00,1184.10 146.00,1184.45 147.00,1184.08 148.00,1184.53 149.00,1184.14 150.00,1184.51 151.00,1184.27 152.00,1184.52 154.00,1184.17 155.00,1184.59 156.00,1184.62 157.00,1184.39 160.00,1184.25 161.00,1184.56 162.00,1184.32 166.00,1184.21 167.00,1184.59 168.00,1184.37 169.00,1184.54 171.85,1184.09 172.40,1179.94 172.85,1183.87 173.15,1184.20 174.00,1184.37 177.00,1184.19 178.00,1184.28 179.00,1184.65 180.00,1184.30 181.00,1184.24 183.00,1184.61 184.00,1184.18 185.00,1184.37 187.00,1184.13 188.00,1184.51 196.00,1184.21 197.00,1184.60 198.00,1184.32 199.00,1184.43 201.10,1184.27 201.50,1184.17 201.70,1183.82 202.10,1180.94 202.50,1183.91 202.65,1184.24 203.00,1184.42 206.00,1184.39 207.00,1184.57 211.00,1184.18 212.00,1184.53 214.00,1184.36 218.00,1184.50 219.00,1184.27 220.00,1184.54 221.55,1183.86 222.00,1180.53 222.45,1183.89 222.75,1184.12 223.65,1183.93 224.30,1183.33 224.70,1182.14 225.05,1176.60 225.60,1083.95 226.20,1178.30 226.40,1181.34 226.75,1182.76 227.35,1183.51 229.00,1184.34 230.00,1184.14 232.00,1184.47 233.00,1184.11 234.00,1184.05 235.00,1184.41 238.00,1184.39 240.00,1184.16 241.00,1184.37 243.00,1184.15 244.00,1184.47 246.00,1184.46 247.00,1184.25 251.00,1184.43 252.00,1184.28 255.00,1184.70 256.00,1184.19 257.00,1184.53 260.00,1184.18 262.00,1184.51 265.00,1184.35 266.00,1184.57 268.00,1184.07 269.00,1184.29 271.00,1183.91 273.00,1184.60 275.00,1184.22 276.00,1184.26 277.00,1184.57 280.00,1184.39 283.00,1184.48 285.00,1184.24 286.00,1184.48 287.00,1184.30 288.00,1184.56 289.00,1184.21 291.00,1184.40 292.00,1184.20 293.00,1184.66 294.00,1184.62 295.00,1184.33 296.00,1184.51 297.00,1184.46 298.00,1184.01 299.00,1184.44 302.00,1184.24 305.00,1184.58 307.00,1184.40 308.00,1184.63 309.00,1184.32 311.00,1184.13 312.00,1184.63 318.00,1184.36 320.00,1184.41 321.00,1184.63 325.00,1184.30 326.00,1184.64 330.00,1184.23 332.00,1184.53 333.00,1184.34 336.00,1184.42 337.00,1184.16 338.00,1184.36 339.00,1184.27 340.00,1184.53 341.00,1184.28 343.00,1184.63 344.00,1184.35 346.00,1184.43 348.00,1184.25 350.00,1184.70 351.00,1184.36 353.00,1184.24 354.00,1184.45 355.00,1184.21 356.00,1184.23 357.00,1184.59 358.00,1184.26 359.00,1184.56 360.00,1184.63 361.00,1184.44 363.00,1184.69 364.00,1184.37 366.00,1184.20 368.00,1184.62 370.00,1184.26 373.00,1184.44 380.00,1184.38 382.00,1184.68 385.00,1184.14 386.00,1184.45 387.00,1184.10 388.00,1184.18 389.00,1184.52 392.00,1184.14 393.00,1184.34 394.00,1184.29 396.00,1184.73 397.00,1184.42 399.00,1184.21 400.00,1184.38 402.00,1184.21 403.00,1184.40 404.00,1184.21 405.00,1184.54 412.00,1184.17 413.45,1183.75 414.20,1183.30 414.60,1182.66 414.80,1181.68 415.10,1173.65 415.50,1144.15 415.80,1151.62 416.10,1143.68 416.40,1151.62 416.70,1144.11 417.20,1178.02 417.45,1182.09 418.00,1183.60 421.00,1184.30 423.00,1184.28 424.00,1184.51 426.00,1184.19 428.00,1184.50 429.00,1184.45 430.00,1184.10 431.00,1184.59 433.00,1184.59 434.00,1184.33 436.00,1184.22 437.00,1184.77 438.00,1184.37 439.00,1184.63 440.00,1184.30 441.00,1184.42 442.00,1184.14 444.00,1184.54 445.00,1184.20 446.00,1184.55 448.00,1184.24 451.00,1184.38 456.00,1184.19 458.00,1184.51 459.00,1184.15 460.00,1184.37 462.00,1184.20 463.00,1184.46 464.00,1184.22 465.00,1184.47 466.85,1183.78 467.40,1183.05 467.85,1181.02 468.05,1177.54 468.60,1064.22 469.05,1171.89 469.35,1181.00 469.70,1182.81 470.25,1183.72 472.00,1184.31 474.00,1184.17 477.00,1184.51 478.00,1184.24 479.00,1184.36 480.45,1184.04 480.90,1182.06 481.40,1184.20 483.00,1184.11 485.00,1184.55 486.00,1184.16 489.00,1184.22 490.00,1184.45 492.00,1184.29 493.00,1184.48 494.00,1184.28 495.00,1184.46 498.00,1184.12 499.00,1184.68 500.00,1184.35 504.00,1184.40 505.00,1184.68 506.00,1184.24 507.00,1184.16 509.00,1184.20 510.00,1184.51 511.00,1184.52 513.00,1184.19 515.00,1184.61 516.00,1183.98 517.00,1184.48 518.00,1184.24 519.00,1184.55 520.00,1184.24 521.00,1184.36 522.00,1184.17 523.00,1184.25 524.00,1184.61 528.00,1184.11 530.00,1184.39 533.00,1184.23 537.00,1184.68 539.00,1184.28 543.00,1184.39 544.00,1184.24 545.00,1184.49 550.00,1184.26 553.00,1184.43 555.00,1184.19 556.00,1184.41 557.00,1184.20 559.00,1184.35 560.00,1184.09 561.00,1184.41 566.00,1184.25 569.00,1184.41 570.00,1184.22 571.00,1184.43 574.00,1184.33 575.00,1184.48 576.00,1184.15 577.00,1184.47 581.00,1184.30 583.00,1184.49 585.00,1184.43 586.00,1184.17 588.00,1184.57 590.00,1184.43 591.00,1184.16 592.00,1184.54 594.00,1184.02 595.00,1184.45 596.00,1184.17 597.00,1184.20 599.00,1184.59 600.00,1184.34 602.00,1184.66 603.00,1184.63 606.00,1184.20 608.00,1184.46 611.00,1184.54 612.00,1184.27 616.00,1184.54 618.00,1184.32 619.00,1184.41 620.10,1184.03 620.40,1183.30 620.80,1180.77 621.30,1183.72 621.55,1184.15 622.05,1184.38 623.65,1184.25 624.00,1183.97 624.60,1179.07 625.05,1183.10 625.40,1183.98 626.05,1184.24 628.00,1184.20 629.00,1183.98 631.00,1184.40 632.00,1184.25 633.40,1183.72 633.80,1182.78 634.50,1169.36 635.00,1180.55 635.25,1182.76 635.45,1183.09 635.70,1183.04 636.30,1182.56 636.60,1181.98 636.90,1180.51 637.10,1177.66 637.35,1154.37 637.70,1044.05 638.15,1169.19 638.45,1179.39 638.65,1180.43 638.75,1180.60 638.90,1180.51 639.25,1178.08 639.55,1153.08 639.90,1038.64 640.25,1153.45 640.55,1178.83 640.95,1182.18 641.25,1183.00 641.70,1183.55 642.50,1183.95 644.00,1184.27 645.00,1184.13 648.00,1184.52 650.55,1183.88 651.40,1183.22 651.95,1181.31 652.20,1177.84 652.45,1153.19 652.80,1036.54 653.25,1169.15 653.45,1178.93 653.65,1181.26 654.00,1182.91 654.70,1183.66 656.00,1184.11 658.00,1184.41 659.00,1184.48 660.00,1184.11 662.00,1184.41 664.00,1184.13 665.00,1184.51 666.40,1184.30 666.65,1184.10 666.80,1183.55 667.20,1178.24 667.65,1183.72 667.85,1184.10 669.00,1184.51 670.00,1184.34 671.00,1184.54 672.00,1184.25 674.00,1184.42 675.00,1184.28 676.00,1184.49 678.00,1184.25 681.00,1184.53 682.00,1184.30 685.00,1184.73 686.00,1184.69 687.00,1184.40 689.00,1184.63 691.00,1184.25 693.00,1184.46 695.00,1184.15 696.00,1184.18 697.00,1184.50 698.00,1184.28 701.00,1184.49 705.00,1184.31 706.15,1184.04 706.35,1183.67 706.80,1177.81 707.15,1183.12 707.45,1184.24 712.00,1184.50 713.00,1184.16 715.00,1184.34 716.00,1184.78 718.00,1184.38 718.60,1184.46"/>
<polyline fill="none" stroke="#7f2d1f" stroke-width="1.00" stroke-linejoin="round" points="21.00,1315.24 24.00,1315.44 25.00,1315.15 26.00,1315.47 27.00,1315.35 28.00,1315.63 30.00,1315.70 32.00,1315.48 34.00,1315.70 35.00,1315.36 36.00,1315.52 37.70,1315.33 38.25,1314.79 38.55,1313.35 38.70,1309.83 39.10,1276.98 39.60,1312.55 39.95,1314.61 40.35,1315.09 41.00,1315.38 42.00,1315.46 43.00,1315.21 44.00,1315.53 48.00,1315.52 49.00,1315.22 50.00,1315.73 52.00,1315.16 54.00,1315.72 55.00,1315.42 56.00,1315.73 57.00,1315.73 59.00,1315.13 61.00,1315.68 63.00,1315.27 68.00,1315.65 69.00,1315.36 70.00,1315.47 71.00,1315.33 72.00,1315.51 74.00,1315.32 75.00,1315.82 76.00,1315.50 78.00,1315.88 80.00,1315.48 82.00,1315.38 83.00,1315.65 84.00,1315.44 85.00,1315.75 86.00,1315.42 89.00,1315.44 89.70,1315.18 90.25,1314.35 90.45,1312.24 90.90,1283.09 91.45,1313.72 91.60,1314.49 91.90,1314.92 94.00,1315.73 95.00,1315.43 97.00,1315.72 100.00,1315.18 101.00,1315.85 102.00,1315.56 103.00,1315.68 104.00,1315.42 105.00,1315.77 108.00,1315.36 109.00,1315.55 112.00,1315.26 114.00,1315.52 115.00,1315.31 117.00,1315.60 120.00,1315.41 121.00,1315.64 122.00,1315.27 125.00,1315.52 127.00,1315.33 128.00,1315.81 130.00,1315.30 133.00,1315.59 134.00,1315.30 135.00,1315.61 136.00,1315.29 139.00,1315.75 141.00,1315.45 142.00,1315.69 143.00,1315.34 146.00,1315.65 148.00,1315.46 149.00,1315.59 150.00,1315.33 151.00,1315.62 153.00,1315.36 159.00,1315.65 161.00,1315.35 162.00,1315.64 163.00,1315.54 164.00,1315.18 166.00,1315.52 167.00,1315.29 168.00,1315.40 169.00,1315.24 170.00,1315.56 172.00,1315.53 173.00,1315.72 174.00,1315.45 175.00,1315.46 176.00,1315.80 177.00,1315.30 178.00,1315.61 179.00,1315.30 181.00,1315.82 183.00,1315.38 184.00,1315.86 185.00,1315.42 187.00,1315.54 188.00,1315.30 189.00,1315.67 190.00,1315.74 193.00,1315.48 194.00,1315.63 195.00,1315.02 196.00,1315.48 197.00,1315.54 198.00,1315.20 199.00,1315.56 204.00,1315.56 205.00,1315.34 206.00,1315.48 209.00,1315.40 210.00,1315.64 213.00,1315.77 215.00,1315.40 218.00,1315.52 221.00,1315.37 221.35,1314.63 221.70,1312.03 222.10,1314.13 222.30,1314.17 222.55,1313.62 222.80,1312.10 222.95,1308.90 223.50,1231.84 224.05,1308.72 224.45,1313.51 224.85,1314.37 225.65,1314.92 227.00,1315.30 228.00,1315.13 230.00,1315.68 231.00,1315.29 233.00,1315.71 236.00,1315.45 237.00,1315.64 241.00,1315.09 242.00,1315.59 243.00,1315.45 244.00,1315.71 246.00,1315.31 248.00,1315.68 249.00,1315.36 250.00,1315.42 251.00,1315.76 252.00,1315.24 254.00,1315.66 257.00,1315.28 259.00,1315.68 261.00,1315.56 262.00,1315.72 264.00,1315.37 265.00,1315.80 266.00,1315.31 269.00,1315.71 270.00,1315.38 271.00,1315.46 272.00,1315.23 273.00,1315.55 275.00,1315.60 276.00,1315.36 277.00,1315.53 278.00,1315.37 280.00,1315.49 281.00,1315.69 282.00,1315.43 283.00,1315.53 284.00,1315.37 288.00,1315.61 289.00,1315.33 290.00,1315.61 291.00,1315.36 292.00,1315.55 295.00,1315.44 296.00,1315.66 300.00,1315.46 301.00,1315.74 302.00,1315.25 304.00,1315.47 305.00,1315.77 306.00,1315.40 308.00,1315.73 309.00,1315.46 310.00,1315.47 311.00,1315.75 312.00,1315.41 313.00,1315.34 314.00,1315.62 315.00,1315.42 316.00,1315.69 318.00,1315.23 319.00,1315.54 321.00,1315.40 322.00,1315.66 323.00,1315.23 326.00,1315.61 327.00,1315.26 328.00,1315.40 330.00,1315.27 331.00,1315.44 332.00,1315.32 334.00,1315.54 335.00,1315.36 339.00,1315.26 341.00,1315.51 342.00,1315.36 343.00,1315.98 344.00,1315.37 345.00,1315.56 346.00,1315.27 350.00,1315.69 352.00,1315.31 353.00,1315.51 354.00,1315.35 356.00,1315.73 360.00,1315.49 361.00,1315.26 365.00,1315.65 367.00,1315.38 368.00,1315.77 370.00,1315.46 377.00,1315.53 378.00,1315.25 379.00,1315.25 380.00,1315.76 381.00,1315.27 382.00,1315.57 385.00,1315.39 386.00,1315.65 389.00,1315.28 390.00,1315.46 392.00,1315.30 393.00,1315.54 395.00,1315.61 397.00,1315.45 400.00,1315.82 402.00,1315.33 404.00,1315.80 405.00,1315.48 407.00,1315.31 408.00,1315.65 409.00,1315.27 411.00,1314.99 411.80,1314.29 412.45,1313.18 412.75,1311.84 412.95,1309.26 413.60,1239.28 413.90,1253.58 414.20,1238.85 414.50,1253.65 414.80,1239.35 415.40,1307.96 415.70,1312.30 416.35,1314.26 417.00,1314.90 419.00,1315.39 421.00,1315.14 422.00,1315.50 424.00,1315.47 425.00,1315.07 426.00,1315.50 429.00,1315.64 430.00,1315.43 431.00,1315.81 433.00,1315.58 434.00,1315.12 435.00,1315.20 436.00,1315.72 439.00,1315.45 441.00,1315.59 442.00,1315.39 443.00,1315.70 444.00,1315.34 448.00,1315.70 449.00,1315.34 450.00,1315.58 452.00,1315.64 454.00,1315.43 456.00,1315.71 459.00,1315.56 460.00,1315.26 462.00,1315.42 465.20,1315.21 466.05,1314.77 466.35,1314.01 466.85,1306.72 466.95,1306.18 467.10,1306.61 467.20,1305.43 467.70,1220.14 468.20,1308.18 468.35,1311.75 468.60,1313.45 469.15,1314.64 470.00,1315.35 472.00,1315.29 473.00,1315.69 474.00,1315.44 477.00,1315.36 478.00,1315.51 479.00,1315.34 479.65,1315.58 479.90,1315.23 480.20,1313.83 480.55,1315.28 480.80,1315.53 483.00,1315.39 485.00,1315.66 489.00,1315.26 490.00,1315.73 494.00,1315.43 496.00,1315.66 497.00,1315.51 502.00,1315.67 503.00,1315.47 504.00,1315.62 505.00,1315.40 507.00,1315.41 508.00,1315.64 509.00,1315.47 510.00,1315.70 511.00,1315.36 512.00,1315.57 513.00,1315.34 514.00,1315.68 515.00,1315.41 516.00,1315.58 518.00,1315.40 519.00,1315.55 520.00,1315.26 521.00,1315.34 522.00,1315.74 523.00,1315.39 524.00,1315.63 526.00,1315.24 527.05,1315.24 527.60,1311.57 528.15,1315.40 531.00,1315.64 532.00,1315.40 533.00,1315.62 535.00,1315.36 536.00,1315.65 537.00,1315.68 538.00,1315.48 541.00,1315.35 542.00,1315.63 543.00,1315.36 544.00,1315.59 546.00,1315.36 549.00,1315.79 550.00,1315.50 553.00,1315.48 555.00,1315.74 557.00,1315.36 558.00,1315.58 561.00,1315.28 562.00,1315.65 565.00,1315.58 567.00,1315.80 569.00,1315.09 570.00,1315.62 572.00,1315.62 574.00,1315.36 575.00,1315.59 578.00,1315.58 580.00,1315.30 581.00,1315.60 582.00,1315.44 584.00,1315.57 585.00,1315.29 586.00,1315.47 587.00,1315.24 589.00,1315.56 592.00,1315.59 594.00,1315.26 595.00,1315.66 601.00,1315.21 603.00,1315.40 604.00,1315.73 605.00,1315.21 606.00,1315.50 611.00,1315.61 612.00,1315.24 613.00,1315.61 616.00,1315.20 617.00,1315.20 618.00,1315.46 619.00,1315.30 621.60,1315.38 622.00,1315.30 622.20,1314.99 622.70,1312.24 623.15,1314.76 623.45,1315.21 626.00,1315.42 627.00,1315.29 628.00,1315.58 630.00,1315.60 631.65,1315.10 632.00,1314.53 632.60,1305.69 633.25,1314.60 633.70,1315.02 634.00,1314.46 634.50,1308.66 635.05,1314.45 635.30,1315.00 636.00,1315.32 636.75,1314.46 637.20,1313.35 637.70,1302.92 637.95,1306.40 638.10,1304.17 638.60,1183.45 639.05,1301.82 639.30,1311.22 639.55,1313.10 639.95,1314.24 640.60,1314.94 642.00,1315.56 643.00,1315.33 644.00,1315.49 646.00,1315.19 648.00,1315.42 649.00,1315.17 649.40,1314.89 649.70,1314.45 649.90,1313.41 650.40,1304.78 650.90,1312.76 651.05,1313.24 651.20,1313.02 651.50,1311.11 651.85,1287.51 652.20,1183.48 652.65,1301.87 652.85,1310.56 653.10,1312.92 653.50,1314.29 654.10,1314.98 657.00,1315.22 659.00,1315.63 660.00,1315.38 662.00,1315.59 663.00,1315.39 664.10,1315.54 664.65,1315.37 664.85,1315.10 665.30,1311.87 665.70,1315.12 665.90,1315.55 666.20,1315.66 669.00,1315.40 670.00,1315.76 671.00,1315.36 672.00,1315.67 674.00,1315.32 675.00,1315.75 677.00,1315.34 680.00,1315.35 682.00,1315.66 683.00,1315.29 684.00,1315.57 685.00,1315.28 686.00,1315.49 687.00,1315.28 689.00,1315.40 690.00,1315.65 694.00,1315.51 695.00,1315.92 696.00,1315.55 697.00,1315.48 701.00,1315.58 702.00,1315.13 703.00,1315.79 703.85,1315.49 704.15,1315.13 704.60,1311.42 705.05,1315.08 705.30,1315.48 706.00,1315.86 707.00,1315.25 708.00,1315.30 709.00,1315.66 710.00,1315.50 713.00,1315.77 716.00,1315.25 716.70,1315.44"/>
<circle cx="632.2" cy="496.2" r="0.8" fill="#8a3428"/>
<circle cx="648.4" cy="773.5" r="0.8" fill="#4e3f8e"/>
<line x1="20" y1="652.50" x2="718.0" y2="652.50" stroke="#686868" stroke-width="1.5"/><line x1="42.60" y1="652.50" x2="42.60" y2="657.80" stroke="#686868" stroke-width="1.3"/><text x="41.80" y="671.90" font-size="16.00" font-weight="normal" fill="#231f20" text-anchor="middle" textLength="16.80" lengthAdjust="spacingAndGlyphs" stroke="#231f20" stroke-width="0.25" >7.5</text><line x1="67.31" y1="652.50" x2="67.31" y2="655.70" stroke="#686868" stroke-width="1.3"/><line x1="92.02" y1="652.50" x2="92.02" y2="657.80" stroke="#686868" stroke-width="1.3"/><text x="91.22" y="671.90" font-size="16.00" font-weight="normal" fill="#231f20" text-anchor="middle" textLength="16.80" lengthAdjust="spacingAndGlyphs" stroke="#231f20" stroke-width="0.25" >7.0</text><line x1="116.72" y1="652.50" x2="116.72" y2="655.70" stroke="#686868" stroke-width="1.3"/><line x1="141.43" y1="652.50" x2="141.43" y2="657.80" stroke="#686868" stroke-width="1.3"/><text x="140.63" y="671.90" font-size="16.00" font-weight="normal" fill="#231f20" text-anchor="middle" textLength="16.80" lengthAdjust="spacingAndGlyphs" stroke="#231f20" stroke-width="0.25" >6.5</text><line x1="166.14" y1="652.50" x2="166.14" y2="655.70" stroke="#686868" stroke-width="1.3"/><line x1="190.84" y1="652.50" x2="190.84" y2="657.80" stroke="#686868" stroke-width="1.3"/><text x="190.04" y="671.90" font-size="16.00" font-weight="normal" fill="#231f20" text-anchor="middle" textLength="16.80" lengthAdjust="spacingAndGlyphs" stroke="#231f20" stroke-width="0.25" >6.0</text><line x1="215.55" y1="652.50" x2="215.55" y2="655.70" stroke="#686868" stroke-width="1.3"/><line x1="240.26" y1="652.50" x2="240.26" y2="657.80" stroke="#686868" stroke-width="1.3"/><text x="239.46" y="671.90" font-size="16.00" font-weight="normal" fill="#231f20" text-anchor="middle" textLength="16.80" lengthAdjust="spacingAndGlyphs" stroke="#231f20" stroke-width="0.25" >5.5</text><line x1="264.97" y1="652.50" x2="264.97" y2="655.70" stroke="#686868" stroke-width="1.3"/><line x1="289.68" y1="652.50" x2="289.68" y2="657.80" stroke="#686868" stroke-width="1.3"/><text x="288.88" y="671.90" font-size="16.00" font-weight="normal" fill="#231f20" text-anchor="middle" textLength="16.80" lengthAdjust="spacingAndGlyphs" stroke="#231f20" stroke-width="0.25" >5.0</text><line x1="314.38" y1="652.50" x2="314.38" y2="655.70" stroke="#686868" stroke-width="1.3"/><line x1="339.09" y1="652.50" x2="339.09" y2="657.80" stroke="#686868" stroke-width="1.3"/><text x="338.29" y="671.90" font-size="16.00" font-weight="normal" fill="#231f20" text-anchor="middle" textLength="16.80" lengthAdjust="spacingAndGlyphs" stroke="#231f20" stroke-width="0.25" >4.5</text><line x1="363.80" y1="652.50" x2="363.80" y2="655.70" stroke="#686868" stroke-width="1.3"/><line x1="388.50" y1="652.50" x2="388.50" y2="657.80" stroke="#686868" stroke-width="1.3"/><text x="387.70" y="671.90" font-size="16.00" font-weight="normal" fill="#231f20" text-anchor="middle" textLength="16.80" lengthAdjust="spacingAndGlyphs" stroke="#231f20" stroke-width="0.25" >4.0</text><line x1="413.21" y1="652.50" x2="413.21" y2="655.70" stroke="#686868" stroke-width="1.3"/><line x1="437.92" y1="652.50" x2="437.92" y2="657.80" stroke="#686868" stroke-width="1.3"/><text x="437.12" y="671.90" font-size="16.00" font-weight="normal" fill="#231f20" text-anchor="middle" textLength="16.80" lengthAdjust="spacingAndGlyphs" stroke="#231f20" stroke-width="0.25" >3.5</text><line x1="462.63" y1="652.50" x2="462.63" y2="655.70" stroke="#686868" stroke-width="1.3"/><line x1="487.34" y1="652.50" x2="487.34" y2="657.80" stroke="#686868" stroke-width="1.3"/><text x="486.54" y="671.90" font-size="16.00" font-weight="normal" fill="#231f20" text-anchor="middle" textLength="16.80" lengthAdjust="spacingAndGlyphs" stroke="#231f20" stroke-width="0.25" >3.0</text><line x1="512.04" y1="652.50" x2="512.04" y2="655.70" stroke="#686868" stroke-width="1.3"/><line x1="536.75" y1="652.50" x2="536.75" y2="657.80" stroke="#686868" stroke-width="1.3"/><text x="535.95" y="671.90" font-size="16.00" font-weight="normal" fill="#231f20" text-anchor="middle" textLength="16.80" lengthAdjust="spacingAndGlyphs" stroke="#231f20" stroke-width="0.25" >2.5</text><line x1="561.46" y1="652.50" x2="561.46" y2="655.70" stroke="#686868" stroke-width="1.3"/><line x1="586.16" y1="652.50" x2="586.16" y2="657.80" stroke="#686868" stroke-width="1.3"/><text x="585.37" y="671.90" font-size="16.00" font-weight="normal" fill="#231f20" text-anchor="middle" textLength="16.80" lengthAdjust="spacingAndGlyphs" stroke="#231f20" stroke-width="0.25" >2.0</text><line x1="610.87" y1="652.50" x2="610.87" y2="655.70" stroke="#686868" stroke-width="1.3"/><line x1="635.58" y1="652.50" x2="635.58" y2="657.80" stroke="#686868" stroke-width="1.3"/><text x="634.78" y="671.90" font-size="16.00" font-weight="normal" fill="#231f20" text-anchor="middle" textLength="16.80" lengthAdjust="spacingAndGlyphs" stroke="#231f20" stroke-width="0.25" >1.5</text><line x1="660.29" y1="652.50" x2="660.29" y2="655.70" stroke="#686868" stroke-width="1.3"/><line x1="685.00" y1="652.50" x2="685.00" y2="657.80" stroke="#686868" stroke-width="1.3"/><text x="684.20" y="671.90" font-size="16.00" font-weight="normal" fill="#231f20" text-anchor="middle" textLength="16.80" lengthAdjust="spacingAndGlyphs" stroke="#231f20" stroke-width="0.25" >1.0</text><line x1="709.70" y1="652.50" x2="709.70" y2="655.70" stroke="#686868" stroke-width="1.3"/>
<line x1="19.1" y1="1348.10" x2="716.4" y2="1348.10" stroke="#686868" stroke-width="1.5"/><line x1="29.38" y1="1348.10" x2="29.38" y2="1351.10" stroke="#686868" stroke-width="1.3"/><line x1="52.50" y1="1348.10" x2="52.50" y2="1352.90" stroke="#686868" stroke-width="1.3"/><text x="53.20" y="1367.80" font-size="16.00" font-weight="normal" fill="#231f20" text-anchor="middle" textLength="23.30" lengthAdjust="spacingAndGlyphs" stroke="#231f20" stroke-width="0.25" >150</text><line x1="75.62" y1="1348.10" x2="75.62" y2="1351.10" stroke="#686868" stroke-width="1.3"/><line x1="98.74" y1="1348.10" x2="98.74" y2="1352.90" stroke="#686868" stroke-width="1.3"/><text x="99.44" y="1367.80" font-size="16.00" font-weight="normal" fill="#231f20" text-anchor="middle" textLength="23.30" lengthAdjust="spacingAndGlyphs" stroke="#231f20" stroke-width="0.25" >140</text><line x1="121.85" y1="1348.10" x2="121.85" y2="1351.10" stroke="#686868" stroke-width="1.3"/><line x1="144.97" y1="1348.10" x2="144.97" y2="1352.90" stroke="#686868" stroke-width="1.3"/><text x="145.67" y="1367.80" font-size="16.00" font-weight="normal" fill="#231f20" text-anchor="middle" textLength="23.30" lengthAdjust="spacingAndGlyphs" stroke="#231f20" stroke-width="0.25" >130</text><line x1="168.09" y1="1348.10" x2="168.09" y2="1351.10" stroke="#686868" stroke-width="1.3"/><line x1="191.21" y1="1348.10" x2="191.21" y2="1352.90" stroke="#686868" stroke-width="1.3"/><text x="191.91" y="1367.80" font-size="16.00" font-weight="normal" fill="#231f20" text-anchor="middle" textLength="23.30" lengthAdjust="spacingAndGlyphs" stroke="#231f20" stroke-width="0.25" >120</text><line x1="214.33" y1="1348.10" x2="214.33" y2="1351.10" stroke="#686868" stroke-width="1.3"/><line x1="237.44" y1="1348.10" x2="237.44" y2="1352.90" stroke="#686868" stroke-width="1.3"/><text x="238.14" y="1367.80" font-size="16.00" font-weight="normal" fill="#231f20" text-anchor="middle" textLength="23.30" lengthAdjust="spacingAndGlyphs" stroke="#231f20" stroke-width="0.25" >110</text><line x1="260.56" y1="1348.10" x2="260.56" y2="1351.10" stroke="#686868" stroke-width="1.3"/><line x1="283.68" y1="1348.10" x2="283.68" y2="1352.90" stroke="#686868" stroke-width="1.3"/><text x="284.38" y="1367.80" font-size="16.00" font-weight="normal" fill="#231f20" text-anchor="middle" textLength="23.30" lengthAdjust="spacingAndGlyphs" stroke="#231f20" stroke-width="0.25" >100</text><line x1="306.80" y1="1348.10" x2="306.80" y2="1351.10" stroke="#686868" stroke-width="1.3"/><line x1="329.92" y1="1348.10" x2="329.92" y2="1352.90" stroke="#686868" stroke-width="1.3"/><text x="330.62" y="1367.80" font-size="16.00" font-weight="normal" fill="#231f20" text-anchor="middle" textLength="15.60" lengthAdjust="spacingAndGlyphs" stroke="#231f20" stroke-width="0.25" >90</text><line x1="353.03" y1="1348.10" x2="353.03" y2="1351.10" stroke="#686868" stroke-width="1.3"/><line x1="376.15" y1="1348.10" x2="376.15" y2="1352.90" stroke="#686868" stroke-width="1.3"/><text x="376.85" y="1367.80" font-size="16.00" font-weight="normal" fill="#231f20" text-anchor="middle" textLength="15.60" lengthAdjust="spacingAndGlyphs" stroke="#231f20" stroke-width="0.25" >80</text><line x1="399.27" y1="1348.10" x2="399.27" y2="1351.10" stroke="#686868" stroke-width="1.3"/><line x1="422.39" y1="1348.10" x2="422.39" y2="1352.90" stroke="#686868" stroke-width="1.3"/><text x="423.09" y="1367.80" font-size="16.00" font-weight="normal" fill="#231f20" text-anchor="middle" textLength="15.60" lengthAdjust="spacingAndGlyphs" stroke="#231f20" stroke-width="0.25" >70</text><line x1="445.51" y1="1348.10" x2="445.51" y2="1351.10" stroke="#686868" stroke-width="1.3"/><line x1="468.62" y1="1348.10" x2="468.62" y2="1352.90" stroke="#686868" stroke-width="1.3"/><text x="469.32" y="1367.80" font-size="16.00" font-weight="normal" fill="#231f20" text-anchor="middle" textLength="15.60" lengthAdjust="spacingAndGlyphs" stroke="#231f20" stroke-width="0.25" >60</text><line x1="491.74" y1="1348.10" x2="491.74" y2="1351.10" stroke="#686868" stroke-width="1.3"/><line x1="514.86" y1="1348.10" x2="514.86" y2="1352.90" stroke="#686868" stroke-width="1.3"/><text x="515.56" y="1367.80" font-size="16.00" font-weight="normal" fill="#231f20" text-anchor="middle" textLength="15.60" lengthAdjust="spacingAndGlyphs" stroke="#231f20" stroke-width="0.25" >50</text><line x1="537.98" y1="1348.10" x2="537.98" y2="1351.10" stroke="#686868" stroke-width="1.3"/><line x1="561.10" y1="1348.10" x2="561.10" y2="1352.90" stroke="#686868" stroke-width="1.3"/><text x="561.80" y="1367.80" font-size="16.00" font-weight="normal" fill="#231f20" text-anchor="middle" textLength="15.60" lengthAdjust="spacingAndGlyphs" stroke="#231f20" stroke-width="0.25" >40</text><line x1="584.21" y1="1348.10" x2="584.21" y2="1351.10" stroke="#686868" stroke-width="1.3"/><line x1="607.33" y1="1348.10" x2="607.33" y2="1352.90" stroke="#686868" stroke-width="1.3"/><text x="608.03" y="1367.80" font-size="16.00" font-weight="normal" fill="#231f20" text-anchor="middle" textLength="15.60" lengthAdjust="spacingAndGlyphs" stroke="#231f20" stroke-width="0.25" >30</text><line x1="630.45" y1="1348.10" x2="630.45" y2="1351.10" stroke="#686868" stroke-width="1.3"/><line x1="653.57" y1="1348.10" x2="653.57" y2="1352.90" stroke="#686868" stroke-width="1.3"/><text x="654.27" y="1367.80" font-size="16.00" font-weight="normal" fill="#231f20" text-anchor="middle" textLength="15.60" lengthAdjust="spacingAndGlyphs" stroke="#231f20" stroke-width="0.25" >20</text><line x1="676.69" y1="1348.10" x2="676.69" y2="1351.10" stroke="#686868" stroke-width="1.3"/><line x1="699.80" y1="1348.10" x2="699.80" y2="1352.90" stroke="#686868" stroke-width="1.3"/><text x="700.50" y="1367.80" font-size="16.00" font-weight="normal" fill="#231f20" text-anchor="middle" textLength="15.60" lengthAdjust="spacingAndGlyphs" stroke="#231f20" stroke-width="0.25" >10</text>
<text x="369.10" y="16.30" font-size="19.00" font-weight="bold" fill="#231f20" text-anchor="start" textLength="21.10" lengthAdjust="spacingAndGlyphs" stroke="#231f20" stroke-width="0.35" >(a)</text>
<text x="56.10" y="26.80" font-size="13.90" font-weight="bold" fill="#231f20" text-anchor="start" textLength="58.40" lengthAdjust="spacingAndGlyphs" stroke="#231f20" stroke-width="0.35" >DMFDCA</text>
<text x="56.10" y="46.30" font-size="13.40" font-weight="normal" fill="#231f20" text-anchor="start" textLength="33.60" lengthAdjust="spacingAndGlyphs" stroke="#231f20" stroke-width="0.15" >=CH–</text>
<line x1="72.20" y1="48.50" x2="81.80" y2="48.50" stroke="#777" stroke-width="0.95"/>
<g transform="translate(53.5,181) rotate(-90)"><text x="0.00" y="0.00" font-size="16.20" font-weight="bold" fill="#111" text-anchor="start" textLength="43.00" lengthAdjust="spacingAndGlyphs" stroke="#111" stroke-width="0.30" >CDCl<tspan font-size="9.00" dy="2.00">3</tspan><tspan dy="-2.00"></tspan></text></g>
<text x="317.40" y="47.20" font-size="13.40" font-weight="normal" fill="#231f20" text-anchor="start" textLength="77.50" lengthAdjust="spacingAndGlyphs" stroke="#231f20" stroke-width="0.15" >–CO–O–CH<tspan font-size="8.60" dy="1.80">2</tspan><tspan dy="-1.80"></tspan></text>
<line x1="380.50" y1="49.80" x2="389.50" y2="49.80" stroke="#777" stroke-width="0.95"/>
<text x="369.70" y="163.00" font-size="13.90" font-weight="bold" fill="#231f20" text-anchor="start" textLength="58.70" lengthAdjust="spacingAndGlyphs" stroke="#231f20" stroke-width="0.35" >DMFDCA</text>
<text x="368.90" y="182.40" font-size="13.40" font-weight="normal" fill="#231f20" text-anchor="start" textLength="31.40" lengthAdjust="spacingAndGlyphs" stroke="#231f20" stroke-width="0.15" >–CH<tspan font-size="8.60" dy="1.80">3</tspan><tspan dy="-1.80"></tspan></text>
<line x1="386.00" y1="184.60" x2="395.40" y2="184.60" stroke="#777" stroke-width="0.95"/>
<text x="420.40" y="180.70" font-size="13.40" font-weight="normal" fill="#231f20" text-anchor="start" textLength="58.90" lengthAdjust="spacingAndGlyphs" stroke="#231f20" stroke-width="0.15" >–CH<tspan font-size="8.60" dy="1.8" fill="#b0b0b0" stroke="#b0b0b0">2</tspan><tspan dy="-1.8"></tspan>–OH</text>
<line x1="437.40" y1="183.40" x2="446.80" y2="183.40" stroke="#777" stroke-width="0.95"/>
<text x="514.00" y="35.60" font-size="13.40" font-weight="normal" fill="#231f20" text-anchor="start" textLength="109.00" lengthAdjust="spacingAndGlyphs" stroke="#231f20" stroke-width="0.15" >–CO–O–CH<tspan font-size="8.60" dy="1.80">2</tspan><tspan dy="-1.80"></tspan>–CH<tspan font-size="8.60" dy="1.80">2</tspan><tspan dy="-1.80"></tspan></text>
<line x1="609.40" y1="38.50" x2="618.20" y2="38.50" stroke="#777" stroke-width="0.95"/>
<text x="631.20" y="11.70" font-size="13.90" font-weight="bold" fill="#231f20" text-anchor="start" textLength="115.40" lengthAdjust="spacingAndGlyphs" stroke="#231f20" stroke-width="0.35" >α,ω-ALD and DLD</text>
<text x="630.70" y="31.90" font-size="13.40" font-weight="normal" fill="#231f20" text-anchor="start" textLength="40.10" lengthAdjust="spacingAndGlyphs" stroke="#231f20" stroke-width="0.15" >–CH<tspan font-size="8.60" dy="1.80">2</tspan><tspan dy="-1.80"></tspan>–</text>
<text x="694.30" y="157.90" font-size="13.90" font-weight="bold" fill="#231f20" text-anchor="start" textLength="25.30" lengthAdjust="spacingAndGlyphs" stroke="#231f20" stroke-width="0.35" >DLD</text>
<text x="693.40" y="177.40" font-size="13.40" font-weight="normal" fill="#231f20" text-anchor="start" textLength="31.50" lengthAdjust="spacingAndGlyphs" stroke="#231f20" stroke-width="0.15" >–CH<tspan font-size="8.60" dy="1.80">3</tspan><tspan dy="-1.80"></tspan></text>
<line x1="710.60" y1="180.00" x2="719.60" y2="180.00" stroke="#777" stroke-width="0.95"/>
<text x="157.00" y="196.40" font-size="17.90" font-weight="bold" fill="#3f2586" text-anchor="start" textLength="82.80" lengthAdjust="spacingAndGlyphs" stroke="#3f2586" stroke-width="0.50" >PDDF-DLF</text>
<text x="157.50" y="332.00" font-size="17.90" font-weight="bold" fill="#377a77" text-anchor="start" textLength="70.10" lengthAdjust="spacingAndGlyphs" stroke="#377a77" stroke-width="0.50" >PDF-DLF</text>
<text x="156.00" y="475.20" font-size="17.90" font-weight="bold" fill="#5b8a2c" text-anchor="start" textLength="70.50" lengthAdjust="spacingAndGlyphs" stroke="#5b8a2c" stroke-width="0.50" >POF-DLF</text>
<text x="156.70" y="610.70" font-size="17.90" font-weight="bold" fill="#7a1c1c" text-anchor="start" textLength="69.20" lengthAdjust="spacingAndGlyphs" stroke="#7a1c1c" stroke-width="0.50" >PHF-DLF</text>
<text x="260.10" y="712.00" font-size="25.60" font-weight="normal" fill="#14142a" text-anchor="start" textLength="225.50" lengthAdjust="spacingAndGlyphs" stroke="#14142a" stroke-width="0.20" >Chemical shift (ppm)</text>
<line x1="573.10" y1="48.20" x2="597.10" y2="60.50" stroke="#1a1a1a" stroke-width="2.00" stroke-linecap="butt"/>
<path d="M634.6,60.5 V35.9 H661.9 V71.5" fill="none" stroke="#1a1a1a" stroke-width="2"/>
<line x1="379.50" y1="185.40" x2="387.70" y2="192.00" stroke="#1a1a1a" stroke-width="2.00" stroke-linecap="butt"/>
<line x1="424.80" y1="196.00" x2="434.60" y2="187.80" stroke="#1a1a1a" stroke-width="2.00" stroke-linecap="butt"/>
<line x1="698.30" y1="184.80" x2="704.60" y2="179.90" stroke="#1a1a1a" stroke-width="2.00" stroke-linecap="butt"/>
<text x="356.00" y="774.00" font-size="19.00" font-weight="bold" fill="#231f20" text-anchor="start" textLength="21.60" lengthAdjust="spacingAndGlyphs" stroke="#231f20" stroke-width="0.35" >(b)</text>
<text x="2.10" y="825.40" font-size="13.90" font-weight="bold" fill="#231f20" text-anchor="start" textLength="59.10" lengthAdjust="spacingAndGlyphs" stroke="#231f20" stroke-width="0.35" >DMFDCA</text>
<text x="1.70" y="844.80" font-size="13.40" font-weight="normal" fill="#231f20" text-anchor="start" textLength="34.30" lengthAdjust="spacingAndGlyphs" stroke="#231f20" stroke-width="0.15" >–C=O</text>
<line x1="9.80" y1="847.40" x2="17.80" y2="847.40" stroke="#777" stroke-width="0.95"/>
<text x="91.60" y="834.60" font-size="13.90" font-weight="bold" fill="#231f20" text-anchor="start" textLength="58.90" lengthAdjust="spacingAndGlyphs" stroke="#231f20" stroke-width="0.35" >DMFDCA</text>
<text x="91.40" y="854.30" font-size="13.40" font-weight="normal" fill="#231f20" text-anchor="start" textLength="59.30" lengthAdjust="spacingAndGlyphs" stroke="#231f20" stroke-width="0.15" >=C–C–O–</text>
<line x1="99.60" y1="856.30" x2="107.30" y2="856.30" stroke="#777" stroke-width="0.95"/>
<text x="234.70" y="815.90" font-size="13.90" font-weight="bold" fill="#231f20" text-anchor="start" textLength="58.70" lengthAdjust="spacingAndGlyphs" stroke="#231f20" stroke-width="0.35" >DMFDCA</text>
<text x="234.70" y="835.20" font-size="13.40" font-weight="normal" fill="#231f20" text-anchor="start" textLength="24.00" lengthAdjust="spacingAndGlyphs" stroke="#231f20" stroke-width="0.15" >=C–</text>
<line x1="242.20" y1="838.20" x2="250.90" y2="838.20" stroke="#777" stroke-width="0.95"/>
<g transform="translate(402.9,886.6) rotate(-90)"><text x="0.00" y="0.00" font-size="15.20" font-weight="bold" fill="#111" text-anchor="start" textLength="42.20" lengthAdjust="spacingAndGlyphs" stroke="#111" stroke-width="0.30" >CDCl<tspan font-size="8.50" dy="1.80">3</tspan><tspan dy="-1.80"></tspan></text></g>
<text x="476.90" y="807.10" font-size="13.40" font-weight="normal" fill="#231f20" text-anchor="start" textLength="85.90" lengthAdjust="spacingAndGlyphs" stroke="#231f20" stroke-width="0.15" >–CO–O–CH<tspan font-size="8.60" dy="1.80">2</tspan><tspan dy="-1.80"></tspan>–</text>
<line x1="531.10" y1="809.10" x2="539.20" y2="809.10" stroke="#777" stroke-width="0.95"/>
<text x="482.70" y="863.00" font-size="13.70" font-weight="normal" fill="#2a2a2a" text-anchor="start" textLength="57.80" lengthAdjust="spacingAndGlyphs" stroke="#2a2a2a" stroke-width="0.15" >DMFDCA</text>
<text x="482.10" y="882.10" font-size="13.40" font-weight="normal" fill="#231f20" text-anchor="start" textLength="50.00" lengthAdjust="spacingAndGlyphs" stroke="#231f20" stroke-width="0.15" >–O–CH<tspan font-size="8.60" dy="1.80">3</tspan><tspan dy="-1.80"></tspan></text>
<line x1="509.20" y1="885.00" x2="517.60" y2="885.00" stroke="#777" stroke-width="0.95"/>
<text x="626.00" y="713.50" font-size="13.90" font-weight="bold" fill="#231f20" text-anchor="start" textLength="114.60" lengthAdjust="spacingAndGlyphs" stroke="#231f20" stroke-width="0.35" >α,ω-ALD and DLD</text>
<text x="625.50" y="733.30" font-size="13.40" font-weight="normal" fill="#231f20" text-anchor="start" textLength="39.60" lengthAdjust="spacingAndGlyphs" stroke="#231f20" stroke-width="0.15" >–CH<tspan font-size="8.60" dy="1.80">2</tspan><tspan dy="-1.80"></tspan>–</text>
<line x1="633.80" y1="735.00" x2="641.50" y2="735.00" stroke="#777" stroke-width="0.95"/>
<text x="661.20" y="811.80" font-size="13.90" font-weight="bold" fill="#231f20" text-anchor="start" textLength="25.00" lengthAdjust="spacingAndGlyphs" stroke="#231f20" stroke-width="0.35" >DLD</text>
<text x="660.90" y="831.80" font-size="13.40" font-weight="normal" fill="#231f20" text-anchor="start" textLength="63.10" lengthAdjust="spacingAndGlyphs" stroke="#231f20" stroke-width="0.15" >–CH<tspan font-size="8.60" dy="1.80">2</tspan><tspan dy="-1.80"></tspan>–CH<tspan font-size="8.60" dy="1.80">3</tspan><tspan dy="-1.80"></tspan></text>
<line x1="669.20" y1="834.10" x2="677.10" y2="834.10" stroke="#777" stroke-width="0.95"/>
<text x="707.10" y="856.50" font-size="13.90" font-weight="bold" fill="#231f20" text-anchor="start" textLength="26.00" lengthAdjust="spacingAndGlyphs" stroke="#231f20" stroke-width="0.35" >DLD</text>
<text x="706.50" y="876.40" font-size="13.40" font-weight="normal" fill="#231f20" text-anchor="start" textLength="31.40" lengthAdjust="spacingAndGlyphs" stroke="#231f20" stroke-width="0.15" >–CH<tspan font-size="8.60" dy="1.80">3</tspan><tspan dy="-1.80"></tspan></text>
<line x1="714.70" y1="878.20" x2="722.80" y2="878.20" stroke="#777" stroke-width="0.95"/>
<text x="259.10" y="1401.00" font-size="25.60" font-weight="normal" fill="#14142a" text-anchor="start" textLength="227.50" lengthAdjust="spacingAndGlyphs" stroke="#14142a" stroke-width="0.20" >Chemical shift (ppm)</text>
<line x1="474.70" y1="824.00" x2="492.70" y2="814.70" stroke="#1a1a1a" stroke-width="2.00" stroke-linecap="butt"/>
<line x1="479.90" y1="896.40" x2="486.70" y2="883.30" stroke="#1a1a1a" stroke-width="2.00" stroke-linecap="butt"/>
<line x1="672.50" y1="841.60" x2="666.90" y2="886.80" stroke="#1a1a1a" stroke-width="2.00" stroke-linecap="butt"/>
<line x1="712.30" y1="888.10" x2="720.70" y2="880.90" stroke="#1a1a1a" stroke-width="2.00" stroke-linecap="butt"/>
<path d="M629.6,762.2 V737.6 H656.3 V773" fill="none" stroke="#1a1a1a" stroke-width="2"/></svg>
</body></html>
